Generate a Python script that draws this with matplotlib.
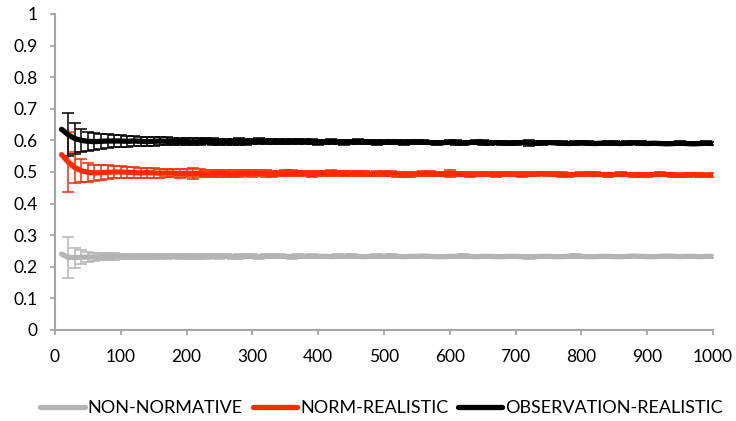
import matplotlib.pyplot as plt

plt.rcParams['font.family'] = ['Lato', 'DejaVu Sans']

# time steps (one reading every 10 steps)
steps = list(range(10, 1001, 10))

non_normative = [
    0.240, 0.230, 0.229, 0.230, 0.231, 0.231, 0.232, 0.232, 0.233, 0.233,
    0.233, 0.232, 0.233, 0.233, 0.232, 0.233, 0.233, 0.234, 0.233, 0.233,
    0.233, 0.232, 0.233, 0.234, 0.233, 0.233, 0.232, 0.232, 0.233, 0.233,
    0.232, 0.233, 0.234, 0.233, 0.233, 0.232, 0.233, 0.233, 0.234, 0.233,
    0.233, 0.232, 0.233, 0.233, 0.234, 0.233, 0.232, 0.233, 0.233, 0.233,
    0.234, 0.233, 0.232, 0.233, 0.233, 0.234, 0.233, 0.232, 0.232, 0.233,
    0.233, 0.234, 0.233, 0.232, 0.233, 0.233, 0.232, 0.232, 0.233, 0.233,
    0.232, 0.231, 0.232, 0.233, 0.233, 0.232, 0.232, 0.233, 0.234, 0.233,
    0.232, 0.232, 0.233, 0.233, 0.232, 0.232, 0.233, 0.234, 0.233, 0.232,
    0.232, 0.233, 0.234, 0.233, 0.232, 0.233, 0.233, 0.232, 0.233, 0.233,
]
non_normative_err = [
    0.000, 0.065, 0.032, 0.022, 0.017, 0.014, 0.012, 0.011, 0.010, 0.009,
    0.009, 0.008, 0.008, 0.008, 0.008, 0.007, 0.008, 0.007, 0.007, 0.007,
    0.007, 0.007, 0.007, 0.006, 0.007, 0.006, 0.006, 0.007, 0.006, 0.006,
    0.006, 0.006, 0.006, 0.006, 0.005, 0.006, 0.006, 0.005, 0.006, 0.005,
    0.005, 0.005, 0.006, 0.005, 0.005, 0.005, 0.005, 0.005, 0.006, 0.005,
    0.005, 0.005, 0.005, 0.005, 0.005, 0.004, 0.005, 0.005, 0.005, 0.004,
    0.005, 0.005, 0.004, 0.005, 0.005, 0.004, 0.005, 0.004, 0.005, 0.004,
    0.004, 0.005, 0.004, 0.004, 0.005, 0.004, 0.004, 0.004, 0.005, 0.004,
    0.004, 0.004, 0.004, 0.005, 0.004, 0.004, 0.004, 0.004, 0.004, 0.005,
    0.004, 0.004, 0.004, 0.004, 0.004, 0.004, 0.004, 0.005, 0.004, 0.004,
]

norm_realistic = [
    0.555, 0.532, 0.514, 0.504, 0.499, 0.497, 0.498, 0.499, 0.500, 0.500,
    0.499, 0.498, 0.497, 0.498, 0.497, 0.496, 0.497, 0.496, 0.495, 0.496,
    0.495, 0.496, 0.494, 0.495, 0.496, 0.495, 0.494, 0.495, 0.496, 0.495,
    0.496, 0.495, 0.494, 0.495, 0.496, 0.497, 0.496, 0.495, 0.494, 0.495,
    0.496, 0.497, 0.496, 0.495, 0.494, 0.495, 0.494, 0.493, 0.494, 0.495,
    0.494, 0.493, 0.492, 0.493, 0.494, 0.495, 0.494, 0.493, 0.494, 0.495,
    0.494, 0.493, 0.492, 0.493, 0.494, 0.493, 0.492, 0.493, 0.494, 0.493,
    0.492, 0.493, 0.494, 0.495, 0.494, 0.493, 0.492, 0.491, 0.492, 0.493,
    0.494, 0.493, 0.492, 0.491, 0.492, 0.493, 0.492, 0.491, 0.490, 0.491,
    0.492, 0.493, 0.492, 0.491, 0.490, 0.491, 0.492, 0.491, 0.490, 0.490,
]
norm_realistic_err = [
    0.000, 0.095, 0.050, 0.036, 0.030, 0.026, 0.024, 0.022, 0.020, 0.019,
    0.018, 0.017, 0.016, 0.016, 0.015, 0.014, 0.014, 0.013, 0.013, 0.012,
    0.018, 0.012, 0.011, 0.011, 0.011, 0.010, 0.011, 0.010, 0.010, 0.010,
    0.009, 0.010, 0.009, 0.009, 0.009, 0.009, 0.008, 0.009, 0.009, 0.008,
    0.008, 0.009, 0.008, 0.008, 0.008, 0.008, 0.008, 0.007, 0.008, 0.008,
    0.008, 0.008, 0.007, 0.008, 0.007, 0.007, 0.008, 0.007, 0.007, 0.011,
    0.007, 0.007, 0.007, 0.007, 0.007, 0.007, 0.007, 0.006, 0.007, 0.007,
    0.007, 0.006, 0.007, 0.006, 0.007, 0.006, 0.007, 0.006, 0.006, 0.007,
    0.006, 0.006, 0.006, 0.007, 0.006, 0.006, 0.006, 0.006, 0.006, 0.006,
    0.006, 0.006, 0.006, 0.006, 0.005, 0.006, 0.006, 0.006, 0.005, 0.006,
]

observation_realistic = [
    0.635, 0.618, 0.606, 0.600, 0.597, 0.596, 0.597, 0.598, 0.598, 0.598,
    0.597, 0.598, 0.597, 0.596, 0.597, 0.598, 0.597, 0.596, 0.597, 0.596,
    0.595, 0.596, 0.597, 0.596, 0.595, 0.594, 0.595, 0.596, 0.595, 0.596,
    0.597, 0.596, 0.595, 0.596, 0.595, 0.596, 0.597, 0.596, 0.595, 0.594,
    0.595, 0.596, 0.595, 0.594, 0.595, 0.596, 0.595, 0.594, 0.593, 0.594,
    0.595, 0.594, 0.593, 0.594, 0.595, 0.594, 0.593, 0.592, 0.593, 0.594,
    0.593, 0.592, 0.593, 0.594, 0.593, 0.592, 0.593, 0.592, 0.591, 0.592,
    0.593, 0.592, 0.591, 0.592, 0.593, 0.592, 0.591, 0.590, 0.591, 0.592,
    0.591, 0.590, 0.591, 0.592, 0.591, 0.590, 0.591, 0.592, 0.591, 0.590,
    0.591, 0.590, 0.589, 0.590, 0.591, 0.590, 0.589, 0.590, 0.591, 0.590,
]
observation_realistic_err = [
    0.000, 0.068, 0.048, 0.036, 0.030, 0.026, 0.023, 0.021, 0.019, 0.018,
    0.017, 0.016, 0.015, 0.015, 0.014, 0.013, 0.013, 0.012, 0.012, 0.011,
    0.011, 0.011, 0.010, 0.010, 0.010, 0.010, 0.009, 0.010, 0.009, 0.009,
    0.009, 0.009, 0.008, 0.009, 0.008, 0.008, 0.008, 0.008, 0.008, 0.008,
    0.007, 0.008, 0.007, 0.008, 0.007, 0.007, 0.007, 0.007, 0.007, 0.007,
    0.007, 0.007, 0.007, 0.007, 0.006, 0.007, 0.006, 0.007, 0.006, 0.006,
    0.007, 0.006, 0.006, 0.006, 0.007, 0.006, 0.006, 0.006, 0.006, 0.006,
    0.006, 0.009, 0.006, 0.006, 0.006, 0.005, 0.006, 0.006, 0.006, 0.005,
    0.006, 0.006, 0.005, 0.006, 0.006, 0.005, 0.006, 0.005, 0.006, 0.005,
    0.005, 0.006, 0.005, 0.005, 0.006, 0.005, 0.005, 0.005, 0.006, 0.005,
]

series = [
    ("NON-NORMATIVE", non_normative, non_normative_err, "#b4b4b4"),
    ("NORM-REALISTIC", norm_realistic, norm_realistic_err, "#ff2a00"),
    ("OBSERVATION-REALISTIC", observation_realistic, observation_realistic_err, "black"),
]

fig = plt.figure(figsize=(7.36, 4.21), dpi=100)
ax = fig.add_axes([0.0747, 0.2162, 0.894, 0.7506])

for label, vals, errs, col in series:
    ax.errorbar(steps, vals, yerr=errs, errorevery=(1, 1), color=col, lw=3.8,
                elinewidth=1.1, capsize=4.5, capthick=1.1, label=label,
                solid_capstyle="round")

ax.set_xlim(0, 1000)
ax.set_ylim(0, 1)
ax.set_xticks(range(0, 1001, 100))
ax.set_yticks([i / 10 for i in range(11)])
ax.set_yticklabels(["0"] + [f"{i / 10:.1f}" for i in range(1, 10)] + ["1"])

for side in ["top", "right"]:
    ax.spines[side].set_visible(False)
for side in ["left", "bottom"]:
    ax.spines[side].set_color("#a6a6a6")
    ax.spines[side].set_linewidth(1.5)
ax.tick_params(direction="out", length=3.6, width=1.3, color="#a6a6a6",
               labelsize=12.5, labelcolor="black")
ax.tick_params(axis="y", pad=9)
ax.tick_params(axis="x", pad=10)

handles, labels = ax.get_legend_handles_labels()
handles = [h[0] for h in handles]
fig.legend(handles, labels, loc="center", bbox_to_anchor=(0.5186, 0.031), ncol=3,
           frameon=False, fontsize=13, handlelength=2.45, handletextpad=0.17,
           columnspacing=0.55, borderpad=0, borderaxespad=0)

fig.savefig("out.png", dpi=100)
